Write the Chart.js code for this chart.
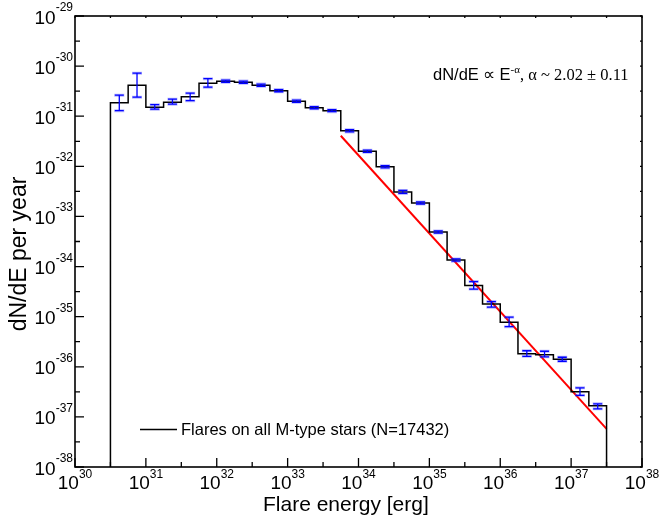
<!DOCTYPE html>
<html>
<head>
<meta charset="utf-8">
<script src="https://cdn.jsdelivr.net/npm/chart.js@4.4.1/dist/chart.umd.min.js"></script>
<style>
  html, body { margin: 0; padding: 0; background: #fff; }
  #wrap { width: 662px; height: 518px; }
</style>
</head>
<body>
<div id="wrap"><canvas id="myChart" width="662" height="518"></canvas></div>
<script>
// Bin edges (erg), quarter-decade bins from 10^30.5 to 10^37.5
const binEdges = [3.162e30, 5.623e30, 1e31, 1.778e31, 3.162e31, 5.623e31, 1e32, 1.778e32,
    3.162e32, 5.623e32, 1e33, 1.778e33, 3.162e33, 5.623e33, 1e34, 1.778e34, 3.162e34,
    5.623e34, 1e35, 1.778e35, 3.162e35, 5.623e35, 1e36, 1.778e36, 3.162e36, 5.623e36,
    1e37, 1.778e37, 3.162e37];

// dN/dE per year in each bin
const binValues = [1.86e-31, 4.17e-31, 1.51e-31, 1.91e-31, 2.45e-31, 4.57e-31, 5.01e-31,
    4.79e-31, 4.17e-31, 3.24e-31, 2.00e-31, 1.48e-31, 1.29e-31, 5.13e-32, 2.00e-32,
    9.77e-33, 3.09e-33, 1.86e-33, 4.90e-34, 1.35e-34, 4.17e-35, 1.78e-35, 7.76e-36,
    1.82e-36, 1.74e-36, 1.41e-36, 3.16e-37, 1.66e-37];

// error bar limits
const errLow = [1.29e-31, 2.40e-31, 1.38e-31, 1.74e-31, 2.04e-31, 3.80e-31, 4.76e-31,
    4.55e-31, 3.96e-31, 3.08e-31, 1.90e-31, 1.41e-31, 1.23e-31, 4.87e-32, 1.90e-32,
    9.28e-33, 2.88e-33, 1.77e-33, 4.65e-34, 1.28e-34, 3.55e-35, 1.55e-35, 6.31e-36,
    1.62e-36, 1.58e-36, 1.29e-36, 2.69e-37, 1.45e-37];
const errHigh = [2.63e-31, 7.24e-31, 1.70e-31, 2.19e-31, 2.88e-31, 5.62e-31, 5.26e-31,
    5.03e-31, 4.38e-31, 3.40e-31, 2.10e-31, 1.55e-31, 1.35e-31, 5.39e-32, 2.10e-32,
    1.026e-32, 3.31e-33, 1.95e-33, 5.15e-34, 1.42e-34, 5.01e-35, 2.00e-35, 9.77e-36,
    2.09e-36, 2.04e-36, 1.55e-36, 3.80e-37, 1.82e-37];

// power-law fit line end points
const fitX = [5.623e33, 3.162e37];
const fitY = [4.07e-32, 5.75e-38];

// axis ticks
const xTicks = [30, 31, 32, 33, 34, 35, 36, 37, 38];
const yTicks = [-29, -30, -31, -32, -33, -34, -35, -36, -37, -38];

const yFloor = 1e-38;

// build the step outline
const histPoints = [{ x: binEdges[0], y: yFloor }];
binValues.forEach((v, i) => {
    histPoints.push({ x: binEdges[i], y: v });
    histPoints.push({ x: binEdges[i + 1], y: v });
});
histPoints.push({ x: binEdges[binEdges.length - 1], y: yFloor });

const SANS = '"Liberation Sans", Arial, sans-serif';
const SERIF = '"Liberation Serif", "Times New Roman", serif';

// error bars at bin centres
const errorBarPlugin = {
    id: 'errorBars',
    afterDatasetsDraw(chart) {
        const ctx = chart.ctx;
        const xs = chart.scales.x, ys = chart.scales.y;
        ctx.save();
        binValues.forEach((v, i) => {
            const cx = xs.getPixelForValue(Math.sqrt(binEdges[i] * binEdges[i + 1]));
            const y1 = ys.getPixelForValue(errLow[i]);
            const y2 = ys.getPixelForValue(errHigh[i]);
            // soft halo
            ctx.strokeStyle = 'rgba(60, 60, 255, 0.35)';
            ctx.lineWidth = 3;
            ctx.beginPath();
            ctx.moveTo(cx - 5, y1); ctx.lineTo(cx + 5, y1);
            ctx.moveTo(cx - 5, y2); ctx.lineTo(cx + 5, y2);
            ctx.stroke();
            ctx.strokeStyle = '#0000ff';
            ctx.lineWidth = 1.3;
            ctx.beginPath();
            ctx.moveTo(cx, y1); ctx.lineTo(cx, y2);
            ctx.moveTo(cx - 4.5, y1); ctx.lineTo(cx + 4.5, y1);
            ctx.moveTo(cx - 4.5, y2); ctx.lineTo(cx + 4.5, y2);
            ctx.stroke();
        });
        ctx.restore();
    }
};

// frame, ticks, labels and texts
const framePlugin = {
    id: 'frame',
    afterDraw(chart) {
        const ctx = chart.ctx;
        const a = chart.chartArea;
        const xs = chart.scales.x, ys = chart.scales.y;
        ctx.save();
        ctx.strokeStyle = '#000';
        ctx.lineWidth = 1.6;
        ctx.strokeRect(a.left, a.top, a.right - a.left, a.bottom - a.top);

        ctx.lineWidth = 1.3;
        ctx.beginPath();
        xTicks.forEach((e, k) => {
            const px = xs.getPixelForValue(Math.pow(10, e));
            ctx.moveTo(px, a.bottom); ctx.lineTo(px, a.bottom - 9);
            ctx.moveTo(px, a.top); ctx.lineTo(px, a.top + 2);
            if (k < xTicks.length - 1) {
                const pm = xs.getPixelForValue(Math.pow(10, e + 0.5));
                ctx.moveTo(pm, a.bottom); ctx.lineTo(pm, a.bottom - 5);
                ctx.moveTo(pm, a.top); ctx.lineTo(pm, a.top + 2);
            }
        });
        yTicks.forEach((e, k) => {
            const py = ys.getPixelForValue(Math.pow(10, e));
            ctx.moveTo(a.left, py); ctx.lineTo(a.left + 9, py);
            ctx.moveTo(a.right, py); ctx.lineTo(a.right - 2, py);
            if (k < yTicks.length - 1) {
                const pm = ys.getPixelForValue(Math.pow(10, e - 0.5));
                ctx.moveTo(a.left, pm); ctx.lineTo(a.left + 5, pm);
                ctx.moveTo(a.right, pm); ctx.lineTo(a.right - 2, pm);
            }
        });
        ctx.stroke();

        ctx.fillStyle = '#000';
        ctx.textBaseline = 'alphabetic';
        ctx.textAlign = 'left';
        const mainFont = '19px ' + SANS;
        const supFont = '12px ' + SANS;

        // x tick labels
        xTicks.forEach(e => {
            const px = xs.getPixelForValue(Math.pow(10, e));
            ctx.font = mainFont;
            const mw = ctx.measureText('10').width;
            ctx.font = supFont;
            const sw = ctx.measureText(String(e)).width;
            const x0 = px - (mw + sw) / 2;
            ctx.font = mainFont;
            ctx.fillText('10', x0, a.bottom + 22);
            ctx.font = supFont;
            ctx.fillText(String(e), x0 + mw, a.bottom + 11);
        });

        // y tick labels
        yTicks.forEach(e => {
            const py = ys.getPixelForValue(Math.pow(10, e));
            ctx.font = mainFont;
            const mw = ctx.measureText('10').width;
            ctx.font = supFont;
            const sw = ctx.measureText(String(e)).width;
            const x0 = a.left - 2 - sw - mw;
            ctx.font = mainFont;
            ctx.fillText('10', x0, py + 7.5);
            ctx.font = supFont;
            ctx.fillText(String(e), x0 + mw, py - 5);
        });

        // axis titles
        ctx.font = '21px ' + SANS;
        ctx.fillText('Flare energy [erg]', 263, 511);
        ctx.save();
        ctx.font = '23px ' + SANS;
        ctx.translate(26, 254);
        ctx.rotate(-Math.PI / 2);
        ctx.textAlign = 'center';
        ctx.fillText('dN/dE per year', 0, 0);
        ctx.restore();

        // fit annotation
        const parts = [
            { t: 'dN/dE ', f: '16.5px ' + SANS, dy: 0 },
            { t: '\u221D ', f: '16.5px ' + SERIF, dy: 0 },
            { t: 'E', f: '16.5px ' + SANS, dy: 0 },
            { t: '-\u03B1', f: '11px ' + SERIF, dy: -6.5 },
            { t: ', \u03B1 ~ 2.02 \u00B1 0.11', f: '16.5px ' + SERIF, dy: 0 }
        ];
        let tx = 433;
        parts.forEach(p => {
            ctx.font = p.f;
            ctx.fillText(p.t, tx, 79.5 + p.dy);
            tx += ctx.measureText(p.t).width;
        });

        // legend
        ctx.lineWidth = 1.4;
        ctx.beginPath();
        ctx.moveTo(140, 429.5); ctx.lineTo(177, 429.5);
        ctx.stroke();
        ctx.font = '16.5px ' + SANS;
        ctx.fillText('Flares on all M-type stars (N=17432)', 181, 435);
        ctx.restore();
    }
};

new Chart(document.getElementById('myChart').getContext('2d'), {
    type: 'scatter',
    data: {
        datasets: [
            {
                label: 'Flares on all M-type stars (N=17432)',
                data: histPoints,
                showLine: true,
                borderColor: '#000',
                borderWidth: 1.5,
                pointRadius: 0,
                fill: false,
                tension: 0
            },
            {
                label: 'fit',
                data: fitX.map((x, i) => ({ x: x, y: fitY[i] })),
                showLine: true,
                borderColor: '#ff0000',
                borderWidth: 2,
                pointRadius: 0,
                fill: false
            }
        ]
    },
    options: {
        responsive: false,
        animation: false,
        devicePixelRatio: 1,
        layout: { padding: { left: 75, right: 20, top: 16, bottom: 51 } },
        scales: {
            x: { type: 'logarithmic', min: 1e30, max: 1e38, display: false },
            y: { type: 'logarithmic', min: 1e-38, max: 1e-29, display: false }
        },
        plugins: {
            legend: { display: false },
            tooltip: { enabled: false }
        }
    },
    plugins: [errorBarPlugin, framePlugin]
});
</script>
</body>
</html>
